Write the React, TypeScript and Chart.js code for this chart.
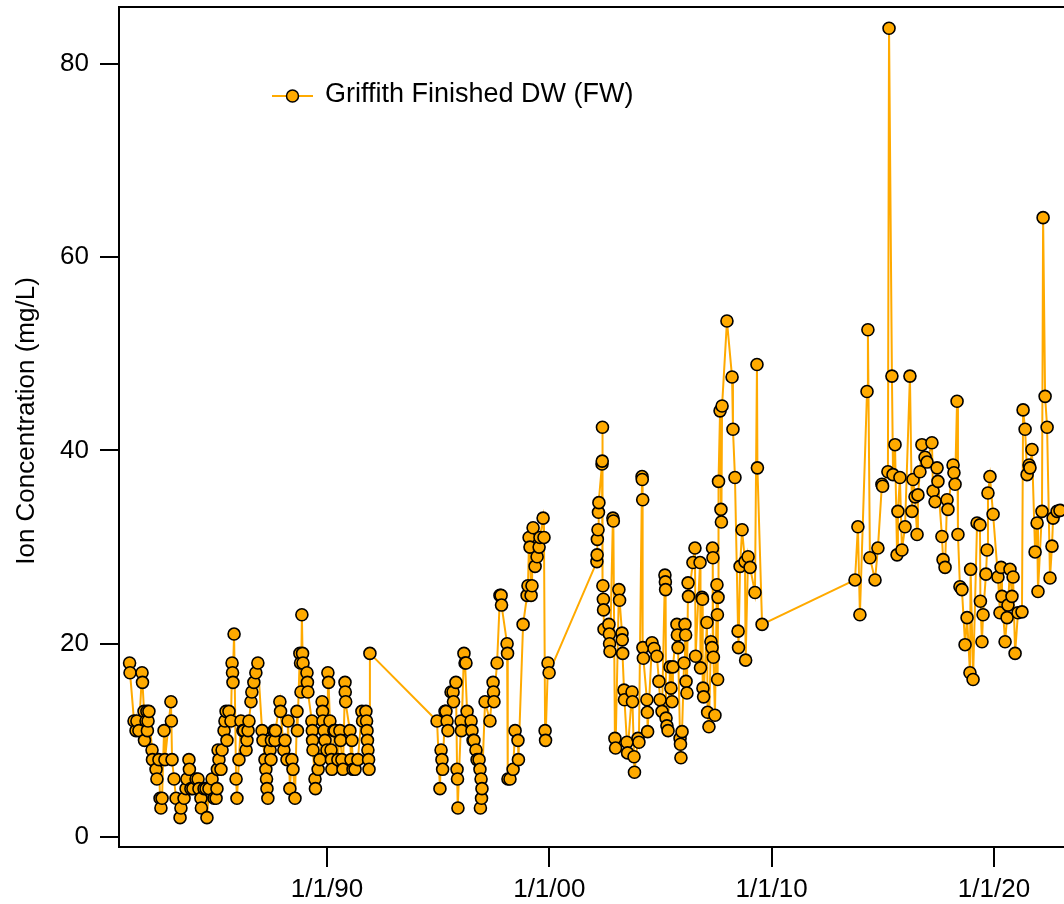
import { useEffect, useRef } from "react";
import { Chart, registerables } from "chart.js";

Chart.register(...registerables);

// Sample dates (decimal years) and ion concentration values (mg/L)
const sampleYears: number[] = [
  // 1981 - 1992
  1981.12, 1981.14, 1981.32, 1981.41, 1981.45, 1981.54, 1981.68, 1981.70, 1981.77, 1981.79,
  1981.86, 1981.90, 1981.92, 1981.95, 1981.99, 1982.13, 1982.15, 1982.31, 1982.35, 1982.44,
  1982.49, 1982.53, 1982.58, 1982.67, 1982.71, 1982.98, 1983.00, 1983.03, 1983.12, 1983.21,
  1983.39, 1983.43, 1983.57, 1983.66, 1983.70, 1983.79, 1983.81, 1983.88, 1983.97, 1984.11,
  1984.20, 1984.24, 1984.33, 1984.35, 1984.47, 1984.56, 1984.60, 1984.69, 1984.83, 1984.92,
  1985.01, 1985.05, 1985.07, 1985.10, 1985.14, 1985.23, 1985.28, 1985.37, 1985.41, 1985.46,
  1985.50, 1985.59, 1985.68, 1985.73, 1985.75, 1985.77, 1985.82, 1985.91, 1985.95, 1986.04,
  1986.13, 1986.22, 1986.27, 1986.36, 1986.40, 1986.45, 1986.49, 1986.58, 1986.62, 1986.71,
  1986.80, 1986.89, 1987.08, 1987.12, 1987.21, 1987.25, 1987.28, 1987.30, 1987.34, 1987.44,
  1987.48, 1987.50, 1987.61, 1987.66, 1987.68, 1987.88, 1987.91, 1988.06, 1988.11, 1988.20,
  1988.25, 1988.33, 1988.42, 1988.47, 1988.56, 1988.65, 1988.67, 1988.78, 1988.81, 1988.83,
  1988.87, 1988.90, 1988.92, 1989.10, 1989.12, 1989.14, 1989.32, 1989.34, 1989.35, 1989.37,
  1989.46, 1989.48, 1989.60, 1989.68, 1989.78, 1989.80, 1989.82, 1989.87, 1989.91, 1990.00,
  1990.04, 1990.07, 1990.13, 1990.18, 1990.20, 1990.22, 1990.31, 1990.36, 1990.49, 1990.58,
  1990.61, 1990.67, 1990.72, 1990.81, 1990.82, 1990.84, 1991.03, 1991.08, 1991.12, 1991.17,
  1991.26, 1991.39, 1991.57, 1991.60, 1991.75, 1991.78, 1991.80, 1991.82, 1991.84, 1991.87,
  1991.89, 1991.93,
  // 1995 - 2000
  1994.95, 1995.08, 1995.13, 1995.17, 1995.20, 1995.31, 1995.35, 1995.40, 1995.44, 1995.58,
  1995.67, 1995.69, 1995.80, 1995.85, 1995.87, 1995.89, 1996.03, 1996.05, 1996.16, 1996.21,
  1996.25, 1996.30, 1996.48, 1996.52, 1996.57, 1996.61, 1996.70, 1996.75, 1996.84, 1996.88,
  1996.90, 1996.93, 1996.95, 1996.97, 1997.11, 1997.33, 1997.47, 1997.49, 1997.51, 1997.65,
  1997.78, 1997.83, 1997.85, 1998.10, 1998.12, 1998.14, 1998.23, 1998.37, 1998.46, 1998.59,
  1998.61, 1998.82, 1999.00, 1999.04, 1999.09, 1999.13, 1999.18, 1999.22, 1999.27, 1999.36,
  1999.45, 1999.54, 1999.58, 1999.72, 1999.76, 1999.81, 1999.83, 1999.94, 1999.99,
  // 2002 - 2009
  2002.14, 2002.15, 2002.16, 2002.19, 2002.21, 2002.23, 2002.37, 2002.38, 2002.39, 2002.41,
  2002.43, 2002.44, 2002.46, 2002.68, 2002.70, 2002.71, 2002.73, 2002.86, 2002.88, 2002.95,
  2002.98, 2003.13, 2003.16, 2003.27, 2003.28, 2003.30, 2003.36, 2003.38, 2003.49, 2003.52,
  2003.72, 2003.74, 2003.81, 2003.83, 2003.99, 2004.03, 2004.17, 2004.18, 2004.20, 2004.21,
  2004.23, 2004.39, 2004.41, 2004.42, 2004.62, 2004.71, 2004.84, 2004.93, 2004.98, 2005.07,
  2005.20, 2005.22, 2005.23, 2005.25, 2005.29, 2005.34, 2005.43, 2005.47, 2005.52, 2005.56,
  2005.74, 2005.76, 2005.79, 2005.88, 2005.90, 2005.92, 2005.97, 2006.06, 2006.10, 2006.13,
  2006.15, 2006.19, 2006.24, 2006.26, 2006.46, 2006.55, 2006.58, 2006.78, 2006.80, 2006.87,
  2006.89, 2006.91, 2006.94, 2007.09, 2007.12, 2007.18, 2007.27, 2007.32, 2007.34, 2007.36,
  2007.38, 2007.45, 2007.54, 2007.56, 2007.57, 2007.59, 2007.61, 2007.68, 2007.72, 2007.74,
  2007.77, 2007.99, 2008.22, 2008.26, 2008.35, 2008.49, 2008.51, 2008.58, 2008.67, 2008.80,
  2008.83, 2008.94, 2009.03, 2009.25, 2009.34, 2009.36, 2009.57,
  // 2013 - 2023
  2013.75, 2013.88, 2013.97, 2014.29, 2014.33, 2014.42, 2014.65, 2014.78, 2014.96, 2014.99,
  2015.23, 2015.28, 2015.41, 2015.46, 2015.55, 2015.64, 2015.68, 2015.77, 2015.86, 2016.00,
  2016.22, 2016.31, 2016.36, 2016.45, 2016.54, 2016.58, 2016.67, 2016.76, 2016.90, 2016.99,
  2017.21, 2017.26, 2017.35, 2017.44, 2017.48, 2017.66, 2017.71, 2017.80, 2017.89, 2017.93,
  2018.16, 2018.20, 2018.25, 2018.34, 2018.38, 2018.47, 2018.56, 2018.70, 2018.79, 2018.92,
  2018.95, 2019.06, 2019.24, 2019.37, 2019.39, 2019.46, 2019.51, 2019.64, 2019.69, 2019.73,
  2019.82, 2019.96, 2020.18, 2020.27, 2020.32, 2020.36, 2020.50, 2020.59, 2020.63, 2020.72,
  2020.81, 2020.86, 2020.95, 2021.08, 2021.26, 2021.31, 2021.40, 2021.49, 2021.58, 2021.62,
  2021.71, 2021.85, 2021.94, 2021.98, 2022.16, 2022.21, 2022.30, 2022.39, 2022.52, 2022.61,
  2022.66, 2022.84, 2022.97,
];

const ionValues: number[] = [
  // 1981 - 1992
  18, 17, 12, 11, 12, 11, 17, 16, 13, 10,
  12, 13, 11, 12, 13, 9, 8, 7, 6, 8,
  4, 3, 4, 11, 8, 14, 12, 8, 6, 4,
  2, 3, 4, 5, 6, 8, 7, 5, 5, 6,
  6, 5, 4, 3, 5, 5, 2, 5, 6, 4,
  4, 5, 7, 9, 8, 7, 9, 11, 12, 13,
  10, 13, 12, 18, 17, 16, 21, 6, 4, 8,
  12, 11, 11, 9, 10, 11, 12, 14, 15, 16,
  17, 18, 11, 10, 8, 7, 6, 5, 4, 9,
  8, 10, 11, 10, 11, 14, 13, 9, 10, 8,
  12, 5, 8, 7, 4, 13, 11, 19, 18, 15,
  23, 19, 18, 17, 16, 15, 12, 11, 10, 9,
  6, 5, 7, 8, 14, 13, 12, 11, 10, 9,
  17, 16, 12, 9, 8, 7, 11, 11, 8, 11,
  10, 8, 7, 16, 15, 14, 11, 8, 10, 7,
  7, 8, 13, 12, 13, 12, 11, 10, 9, 8,
  7, 19,
  // 1995 - 2000
  12, 5, 9, 8, 7, 13, 13, 12, 11, 15,
  15, 14, 16, 7, 6, 3, 12, 11, 19, 18,
  18, 13, 12, 11, 10, 10, 9, 8, 8, 7,
  3, 6, 4, 5, 14, 12, 16, 15, 14, 18,
  25, 25, 24, 20, 19, 6, 6, 7, 11, 10,
  8, 22, 25, 26, 31, 30, 25, 26, 32, 28,
  29, 30, 31, 33, 31, 11, 10, 18, 17,
  // 2002 - 2009
  28.5, 29.2, 30.8, 31.8, 33.6, 34.6, 38.6, 38.9, 42.4, 26,
  24.6, 23.5, 21.5, 22, 21, 20, 19.2, 33, 32.7, 10.2,
  9.2, 25.6, 24.5, 21.1, 20.4, 19, 15.2, 14.2, 9.8, 8.7,
  15, 14, 8.3, 6.7, 10.2, 9.8, 37.3, 37, 34.9, 19.6,
  18.5, 14.2, 12.9, 10.9, 20.1, 19.5, 18.7, 16.1, 14.2, 13,
  27.1, 26.4, 25.6, 12.3, 11.5, 11, 17.6, 15.4, 14, 17.6,
  22, 20.9, 19.6, 10.2, 9.6, 8.2, 10.9, 18, 22, 20.9,
  16.1, 14.9, 26.3, 24.9, 28.4, 29.9, 18.7, 28.4, 17.5, 24.8,
  24.6, 15.4, 14.5, 22.2, 12.9, 11.4, 20.2, 19.6, 29.9, 28.9,
  18.6, 12.6, 26.1, 23, 16.3, 24.8, 36.8, 44.1, 33.9, 32.6,
  44.6, 53.4, 47.6, 42.2, 37.2, 21.3, 19.6, 28, 31.8, 28.5,
  18.3, 29, 27.9, 25.3, 48.9, 38.2, 22,
  // 2013 - 2023
  26.6, 32.1, 23, 46.1, 52.5, 28.9, 26.6, 29.9, 36.5, 36.3,
  37.8, 83.7, 47.7, 37.5, 40.6, 29.2, 33.7, 37.2, 29.7, 32.1,
  47.7, 33.7, 37, 35.2, 31.3, 35.4, 37.8, 40.6, 39.3, 38.8,
  40.8, 35.8, 34.7, 38.2, 36.8, 31.1, 28.7, 27.9, 34.9, 33.9,
  38.5, 37.7, 36.5, 45.1, 31.3, 25.9, 25.6, 19.9, 22.7, 17,
  27.7, 16.3, 32.5, 32.3, 24.4, 20.2, 23, 27.2, 29.7, 35.6,
  37.3, 33.4, 26.9, 23.2, 27.9, 24.9, 20.2, 22.7, 24, 27.7,
  24.9, 26.9, 19, 23.2, 23.3, 44.2, 42.2, 37.5, 38.5, 38.2,
  40.1, 29.5, 32.5, 25.4, 33.7, 64.1, 45.6, 42.4, 26.8, 30.1,
  33, 33.7, 33.8,
];

const yTickValues = [0, 20, 40, 60, 80];
const xTickYears = [1990, 2000, 2010, 2020];
const xTickLabels = ["1/1/90", "1/1/00", "1/1/10", "1/1/20"];
const seriesLabel = "Griffith Finished DW (FW)";
const yAxisTitle = "Ion Concentration (mg/L)";

const ORANGE = "rgb(255,170,0)";
const FONT = '"Liberation Sans", Arial, Helvetica, sans-serif';

export default function App() {
  const ref = useRef<HTMLCanvasElement | null>(null);

  useEffect(() => {
    if (!ref.current) return;
    const points = sampleYears.map((x, i) => ({ x, y: ionValues[i] }));

    const decor = {
      id: "decor",
      afterDraw(chart: any) {
        const { ctx, chartArea } = chart;
        ctx.save();
        // top frame line
        ctx.strokeStyle = "#000";
        ctx.lineWidth = 2;
        ctx.beginPath();
        ctx.moveTo(chartArea.left - 1, chartArea.top);
        ctx.lineTo(chartArea.right, chartArea.top);
        ctx.stroke();

        // legend
        const ly = 96;
        ctx.strokeStyle = ORANGE;
        ctx.lineWidth = 2;
        ctx.beginPath();
        ctx.moveTo(272, ly);
        ctx.lineTo(313, ly);
        ctx.stroke();
        ctx.beginPath();
        ctx.arc(292.5, ly, 6, 0, Math.PI * 2);
        ctx.fillStyle = ORANGE;
        ctx.fill();
        ctx.lineWidth = 1.5;
        ctx.strokeStyle = "#000";
        ctx.stroke();
        ctx.fillStyle = "#000";
        ctx.font = `27px ${FONT}`;
        ctx.textAlign = "left";
        ctx.textBaseline = "alphabetic";
        ctx.fillText(seriesLabel, 325, 102);

        // y axis title
        ctx.translate(34, 421);
        ctx.rotate(-Math.PI / 2);
        ctx.font = `26px ${FONT}`;
        ctx.textAlign = "center";
        ctx.textBaseline = "alphabetic";
        ctx.fillText(yAxisTitle, 0, 0);
        ctx.restore();
      },
    };

    const chart = new Chart(ref.current, {
      type: "line",
      data: {
        datasets: [
          {
            label: seriesLabel,
            data: points,
            borderColor: ORANGE,
            backgroundColor: ORANGE,
            borderWidth: 2,
            pointRadius: 6,
            pointBorderWidth: 1.6,
            pointBackgroundColor: ORANGE,
            pointBorderColor: "#000",
            tension: 0,
          },
        ],
      },
      options: {
        animation: false,
        responsive: false,
        layout: { autoPadding: false, padding: { top: 7, left: 0, right: 0, bottom: 0 } },
        plugins: { legend: { display: false }, tooltip: { enabled: false } },
        scales: {
          x: {
            type: "linear",
            min: 1980.644,
            max: 2023.15,
            afterBuildTicks: (s: any) => {
              s.ticks = xTickYears.map((v) => ({ value: v }));
            },
            afterFit: (s: any) => {
              s.height = 57;
              s.paddingLeft = 0;
              s.paddingRight = 0;
              s.paddingTop = 0;
              s.paddingBottom = 0;
            },
            ticks: {
              autoSkip: false,
              maxRotation: 0,
              padding: 7,
              color: "#000",
              font: { family: FONT, size: 26 },
              callback: (_v: any, i: number) => xTickLabels[i],
            },
            grid: {
              display: true,
              drawOnChartArea: false,
              drawTicks: true,
              tickLength: 20,
              color: "#000",
              lineWidth: 2,
            },
            border: { display: true, color: "#000", width: 2 },
          },
          y: {
            type: "linear",
            min: -1.04,
            max: 85.9,
            afterBuildTicks: (s: any) => {
              s.ticks = yTickValues.map((v) => ({ value: v }));
            },
            afterFit: (s: any) => {
              s.width = 119;
              s.paddingLeft = 0;
              s.paddingRight = 0;
              s.paddingTop = 0;
              s.paddingBottom = 0;
            },
            ticks: {
              padding: 11,
              color: "#000",
              font: { family: FONT, size: 26 },
              callback: (v: any) => String(v),
            },
            grid: {
              display: true,
              drawOnChartArea: false,
              drawTicks: true,
              tickLength: 19,
              color: "#000",
              lineWidth: 2,
            },
            border: { display: true, color: "#000", width: 2 },
          },
        },
      },
      plugins: [decor],
    } as any);

    return () => chart.destroy();
  }, []);

  return (
    <div
      style={{
        position: "fixed",
        left: 0,
        top: 0,
        width: 1064,
        height: 904,
        background: "#fff",
        overflow: "hidden",
      }}
    >
      <canvas ref={ref} width={1064} height={904} style={{ display: "block" }} />
    </div>
  );
}
